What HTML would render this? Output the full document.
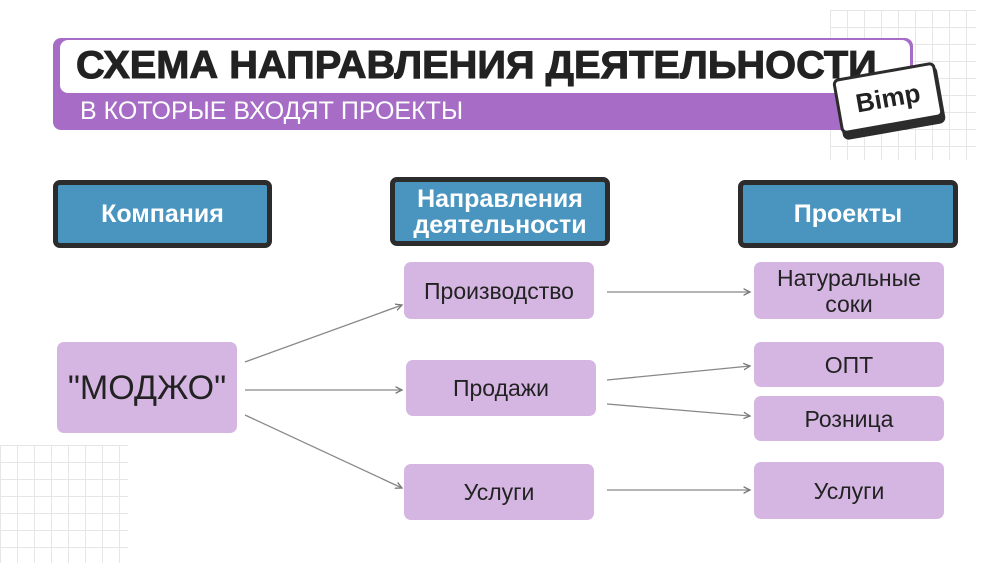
<!DOCTYPE html>
<html><head><meta charset="utf-8"><style>
body{margin:0;width:1000px;height:563px;background:#fff;position:relative;overflow:hidden;font-family:"Liberation Sans","DejaVu Sans",sans-serif}
.a{position:absolute;box-sizing:border-box}
.grid{background-image:linear-gradient(#e6e6e6 1px,transparent 1px),linear-gradient(90deg,#e6e6e6 1px,transparent 1px);background-size:17px 17px}
.hd{background:#4a95c0;border:5px solid #2c2c2c;border-radius:7px;color:#fff;font-weight:bold;font-size:25px;display:flex;align-items:center;justify-content:center;text-align:center;line-height:26px}
.n{background:#d5b6e2;border-radius:7px;color:#222;font-size:23px;display:flex;align-items:center;justify-content:center;text-align:center;line-height:26px}
</style></head><body>
<div class="a grid" style="left:830px;top:10px;width:146px;height:150px"></div>
<div class="a grid" style="left:0;top:445px;width:128px;height:118px"></div>
<div class="a" style="left:53px;top:38px;width:860px;height:92px;background:#a66cc6;border-radius:8px"></div>
<div class="a" style="left:60px;top:40px;width:850px;height:53px;background:#fff;border-radius:8px"></div>
<div class="a" style="left:76px;top:43px;font-size:39px;font-weight:900;color:#222;line-height:46px;transform:scaleX(1.02);transform-origin:left;-webkit-text-stroke:1px #222">СХЕМА НАПРАВЛЕНИЯ ДЕЯТЕЛЬНОСТИ</div>
<div class="a" style="left:80px;top:96px;font-size:25px;color:#fff;line-height:30px">В КОТОРЫЕ ВХОДЯТ ПРОЕКТЫ</div>
<div class="a" style="left:838px;top:74px;width:104px;height:58px;background:#2c2c2c;border-radius:6px;transform:rotate(-10deg)"></div>
<div class="a" style="left:836px;top:70px;width:104px;height:56px;background:#fff;border:3px solid #2c2c2c;border-radius:6px;transform:rotate(-10deg);font-weight:bold;font-size:26px;display:flex;align-items:center;justify-content:center;color:#222">Bimp</div>
<div class="a hd" style="left:53px;top:180px;width:219px;height:68px">Компания</div>
<div class="a hd" style="left:390px;top:177px;width:220px;height:69px">Направления<br>деятельности</div>
<div class="a hd" style="left:738px;top:180px;width:220px;height:68px">Проекты</div>
<div class="a n" style="left:57px;top:342px;width:180px;height:91px;font-size:34px">"МОДЖО"</div>
<div class="a n" style="left:404px;top:262px;width:190px;height:57px">Производство</div>
<div class="a n" style="left:406px;top:360px;width:190px;height:56px">Продажи</div>
<div class="a n" style="left:404px;top:464px;width:190px;height:56px">Услуги</div>
<div class="a n" style="left:754px;top:262px;width:190px;height:57px">Натуральные<br>соки</div>
<div class="a n" style="left:754px;top:342px;width:190px;height:45px">ОПТ</div>
<div class="a n" style="left:754px;top:396px;width:190px;height:45px">Розница</div>
<div class="a n" style="left:754px;top:462px;width:190px;height:57px">Услуги</div>
<svg class="a" style="left:0;top:0" width="1000" height="563">
<defs><marker id="m" markerWidth="6" markerHeight="6" refX="5" refY="3" orient="auto"><path d="M0,0.5 L5,3 L0,5.5" fill="none" stroke="#777" stroke-width="1"/></marker></defs>
<g stroke="#888" stroke-width="1.3" fill="none" marker-end="url(#m)">
<line x1="245" y1="362" x2="402" y2="305"/>
<line x1="245" y1="390" x2="402" y2="390"/>
<line x1="245" y1="415" x2="402" y2="488"/>
<line x1="607" y1="292" x2="750" y2="292"/>
<line x1="607" y1="380" x2="750" y2="366"/>
<line x1="607" y1="404" x2="750" y2="416"/>
<line x1="607" y1="490" x2="750" y2="490"/>
</g></svg>
</body></html>
